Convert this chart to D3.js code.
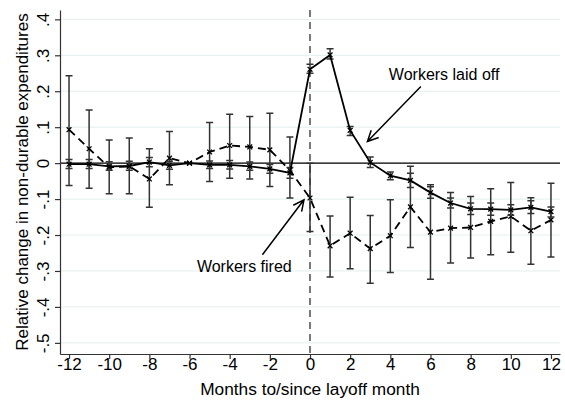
<!DOCTYPE html>
<html>
<head>
<meta charset="utf-8">
<script src="https://cdn.jsdelivr.net/npm/d3@7"></script>
<style>
  body { margin: 0; background: #fff; }
  svg { font-family: "Liberation Sans", Arial, Helvetica, sans-serif; }
</style>
</head>
<body>
<script>
// event-study estimates
var months = [-12,-11,-10,-9,-8,-7,-6,-5,-4,-3,-2,-1,0,1,2,3,4,5,6,7,8,9,10,11,12];

var laidOff   = [-0.003,-0.003,-0.009,-0.008,0.003,-0.006,0,-0.005,-0.005,-0.009,-0.016,-0.027,0.261,0.301,0.091,0.002,-0.035,-0.048,-0.082,-0.111,-0.127,-0.128,-0.130,-0.123,-0.135];
var laidOffLo = [-0.015,-0.015,-0.020,-0.020,-0.010,-0.017,null,-0.015,-0.016,-0.020,-0.028,-0.042,0.250,0.290,0.077,-0.012,-0.046,-0.068,-0.098,-0.125,-0.143,-0.145,-0.145,-0.140,-0.150];
var laidOffHi = [0.010,0.010,0.004,0.005,0.016,0.005,null,0.006,0.007,0.003,-0.004,-0.012,0.275,0.318,0.102,0.017,-0.025,-0.028,-0.066,-0.097,-0.111,-0.111,-0.116,-0.105,-0.122];

var fired   = [0.093,0.040,-0.012,-0.009,-0.044,0.014,0,0.031,0.049,0.045,0.037,-0.020,-0.097,-0.230,-0.195,-0.238,-0.202,-0.122,-0.192,-0.181,-0.179,-0.162,-0.148,-0.188,-0.158];
var firedLo = [-0.062,-0.070,-0.085,-0.085,-0.123,-0.060,null,-0.051,-0.042,-0.044,-0.065,-0.097,-0.190,-0.317,-0.294,-0.334,-0.304,-0.235,-0.323,-0.278,-0.264,-0.255,-0.248,-0.281,-0.261];
var firedHi = [0.243,0.148,0.064,0.070,0.040,0.088,null,0.113,0.136,0.130,0.139,0.073,0.000,-0.147,-0.095,-0.146,-0.102,-0.009,-0.060,-0.082,-0.093,-0.071,-0.054,-0.096,-0.056];

var xTicks = [-12,-10,-8,-6,-4,-2,0,2,4,6,8,10,12];
var yTicks = [-0.5,-0.4,-0.3,-0.2,-0.1,0,0.1,0.2,0.3,0.4];

// labels with arrow start/end in data units
var notes = [
  {text: "Workers laid off", tx: 6.68, ty: 0.232, x1: 5.52, y1: 0.213, x2: 2.86, y2: 0.060},
  {text: "Workers fired",    tx: -3.27, ty: -0.303, x1: -2.37, y1: -0.255, x2: -0.30, y2: -0.102}
];

var W = 565, H = 402;
var margin = {top: 10, right: 5, bottom: 48, left: 60};

var svg = d3.select("body").append("svg")
    .attr("width", W)
    .attr("height", H);

var x = d3.scaleLinear()
    .domain([-12.45, 12.45])
    .range([margin.left, W - margin.right]);

var y = d3.scaleLinear()
    .domain([-0.531, 0.426])
    .range([H - margin.bottom, margin.top]);

// gridlines
svg.append("g")
  .selectAll("line")
  .data(yTicks)
  .enter().append("line")
    .attr("x1", x.range()[0]).attr("x2", x.range()[1])
    .attr("y1", function(d){ return y(d); })
    .attr("y2", function(d){ return y(d); })
    .attr("stroke", "#e4eeef")
    .attr("stroke-width", 1);

// zero line
svg.append("line")
    .attr("x1", x.range()[0]).attr("x2", x.range()[1])
    .attr("y1", y(0)).attr("y2", y(0))
    .attr("stroke", "#000").attr("stroke-width", 1.2);

// layoff month
svg.append("line")
    .attr("x1", x(0)).attr("x2", x(0))
    .attr("y1", y.range()[1]).attr("y2", y.range()[0])
    .attr("stroke", "#222").attr("stroke-width", 1.2)
    .attr("stroke-dasharray", "7,5");

function fmtY(d) {
  if (Math.abs(d) < 1e-9) return "0";
  var s = d.toFixed(1);
  return s.replace("0.", ".");
}

var yAxis = d3.axisLeft(y).tickValues(yTicks).tickSize(5).tickSizeOuter(0).tickFormat(fmtY);
var xAxis = d3.axisBottom(x).tickValues(xTicks).tickSize(5).tickSizeOuter(0).tickFormat(function(d){ return String(d); });

var gy = svg.append("g")
    .attr("transform", "translate(" + margin.left + ",0)")
    .call(yAxis);
gy.selectAll("text")
    .attr("x", null).attr("dy", null)
    .attr("transform", "translate(-11,0) rotate(-90)")
    .attr("text-anchor", "middle")
    .attr("font-size", 17)
    .attr("fill", "#000");

var gx = svg.append("g")
    .attr("transform", "translate(0," + (H - margin.bottom) + ")")
    .call(xAxis);
gx.selectAll("text")
    .attr("y", 16).attr("dy", null)
    .attr("font-size", 17)
    .attr("fill", "#000");

svg.selectAll(".domain, .tick line").attr("stroke", "#333").attr("stroke-width", 1.2);

// axis titles
svg.append("text")
    .attr("x", (x.range()[0] + x.range()[1]) / 2)
    .attr("y", 395)
    .attr("text-anchor", "middle")
    .attr("font-size", 17.3)
    .text("Months to/since layoff month");

svg.append("text")
    .attr("transform", "translate(28," + ((y.range()[0] + y.range()[1]) / 2) + ") rotate(-90)")
    .attr("text-anchor", "middle")
    .attr("font-size", 17)
    .text("Relative change in non-durable expenditures");

function drawSeries(vals, lo, hi, dash) {
  var g = svg.append("g");
  var idx = d3.range(months.length);

  // error bars with caps
  var bars = idx.filter(function(i){ return lo[i] !== null; });
  g.selectAll(".bar")
    .data(bars)
    .enter().append("path")
      .attr("d", function(i) {
        var cx = x(months[i]), a = y(hi[i]), b = y(lo[i]);
        return "M" + (cx - 3.5) + "," + a + "H" + (cx + 3.5) +
               "M" + cx + "," + a + "V" + b +
               "M" + (cx - 3.5) + "," + b + "H" + (cx + 3.5);
      })
      .attr("fill", "none")
      .attr("stroke", "#333")
      .attr("stroke-width", 1.5);

  var line = d3.line()
      .x(function(i){ return x(months[i]); })
      .y(function(i){ return y(vals[i]); });

  g.append("path")
      .attr("d", line(idx))
      .attr("fill", "none")
      .attr("stroke", "#000")
      .attr("stroke-width", 1.8)
      .attr("stroke-dasharray", dash ? "8,5" : null);

  // x markers
  g.selectAll(".mk")
    .data(idx)
    .enter().append("path")
      .attr("d", function(i) {
        var cx = x(months[i]), cy = y(vals[i]), r = 2.4;
        return "M" + (cx - r) + "," + (cy - r) + "L" + (cx + r) + "," + (cy + r) +
               "M" + (cx - r) + "," + (cy + r) + "L" + (cx + r) + "," + (cy - r);
      })
      .attr("stroke", "#000")
      .attr("stroke-width", 1.3);
}

drawSeries(fired, firedLo, firedHi, true);
drawSeries(laidOff, laidOffLo, laidOffHi, false);

// annotations
notes.forEach(function(n) {
  var ax = x(n.x1), ay = y(n.y1), bx = x(n.x2), by = y(n.y2);
  var ang = Math.atan2(by - ay, bx - ax), len = 12, spread = 0.45;
  svg.append("path")
      .attr("d", "M" + ax + "," + ay + "L" + bx + "," + by +
                 "M" + (bx - len * Math.cos(ang - spread)) + "," + (by - len * Math.sin(ang - spread)) +
                 "L" + bx + "," + by +
                 "L" + (bx - len * Math.cos(ang + spread)) + "," + (by - len * Math.sin(ang + spread)))
      .attr("fill", "none")
      .attr("stroke", "#000")
      .attr("stroke-width", 1.5);

  svg.append("text")
      .attr("x", x(n.tx))
      .attr("y", y(n.ty))
      .attr("text-anchor", "middle")
      .attr("font-size", 16)
      .text(n.text);
});
</script>
</body>
</html>
